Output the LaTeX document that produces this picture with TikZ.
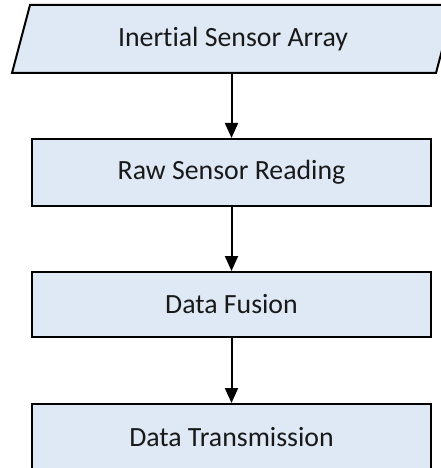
\documentclass[tikz,border=0pt]{standalone}
\usepackage{fontspec}
\setmainfont{Carlito}[Ligatures={NoCommon,NoRequired}]
\usetikzlibrary{arrows.meta}
\definecolor{boxfill}{RGB}{222,233,245}
\tikzset{
  outline/.style={draw=black, line width=2bp, fill=boxfill},
  stepbox/.style={outline, rectangle, minimum width=398bp, inner sep=0pt},
  caption/.style={font=\fontsize{27.8bp}{33bp}\selectfont, text=black!90, inner sep=0pt},
  flow/.style={draw=black, line width=2bp, -{Triangle[width=13bp,length=15bp]}},
}
\begin{document}
\begin{tikzpicture}[x=1bp, y=-1bp]
  \useasboundingbox (0,0) rectangle (441,468);
  \clip (0,0) rectangle (441,468);

  % input parallelogram (runs past the right edge)
  \draw[outline] (30,5) -- (454,5) -- (436,73) -- (12,73) -- cycle;
  \node[caption] (src) at (233,39) {Inertial Sensor Array};
  \coordinate (srcout) at (231.5,73);

  % processing steps
  \node[stepbox, minimum height=67bp] (raw) at (231.5,172.5) {};
  \node[caption] at (raw.center) {Raw Sensor Reading};
  \node[stepbox, minimum height=65bp] (fusion) at (231.5,304.5) {};
  \node[caption] at (fusion.center) {Data Fusion};
  \node[stepbox, minimum height=66bp] (trans) at (231.5,437) {};
  \node[caption] at (trans.center) {Data Transmission};

  % connectors
  \draw[flow] (srcout) -- (raw.north);
  \draw[flow] (raw.south) -- (fusion.north);
  \draw[flow] (fusion.south) -- (trans.north);
\end{tikzpicture}
\end{document}
